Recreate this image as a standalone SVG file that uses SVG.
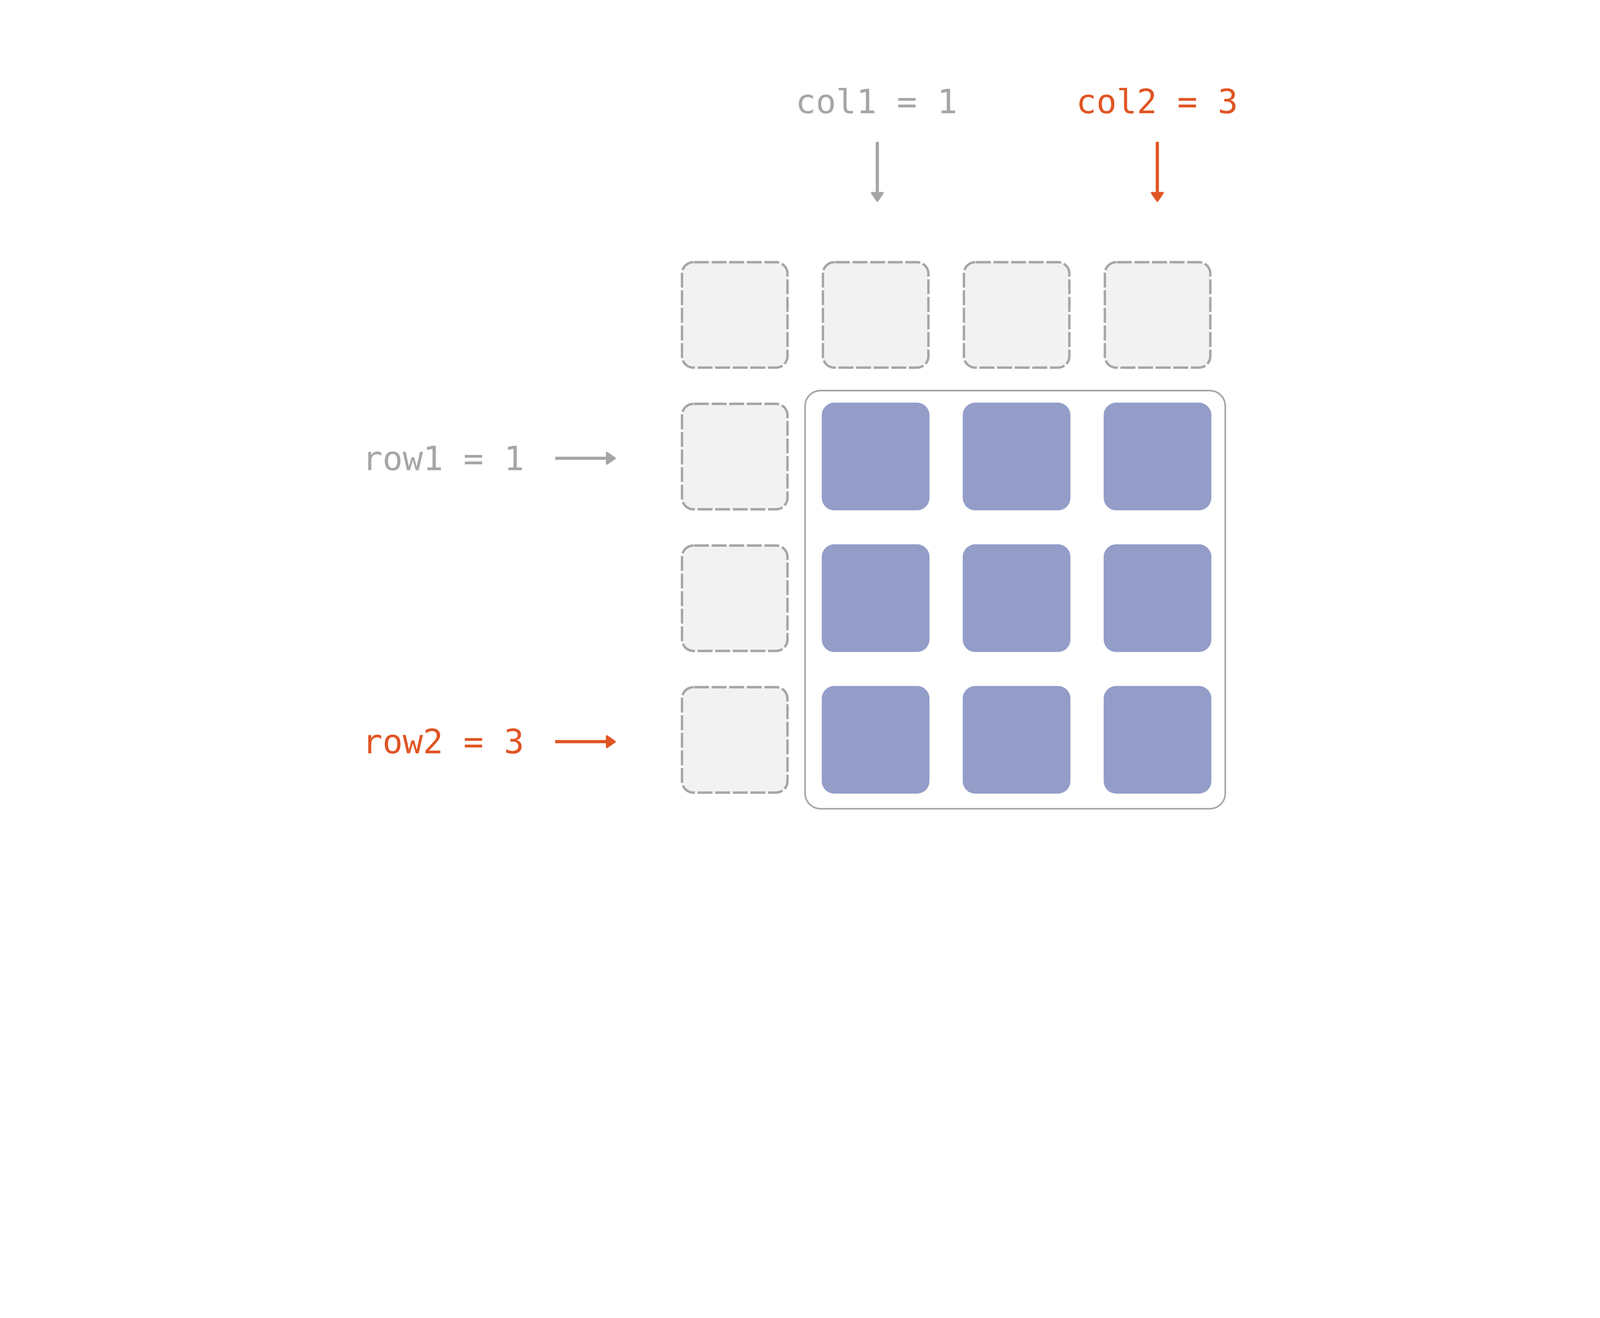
<svg xmlns="http://www.w3.org/2000/svg" width="6000" height="3375" viewBox="0 0 6000 3375" preserveAspectRatio="xMinYMin meet">
  <style>
    svg { width: 100vw; height: 100vh; }
    .lbl { font-family: "DejaVu Sans Mono", "Liberation Mono", monospace; font-size: 126px; text-anchor: middle; }
    .gray { fill: #a6a6a6; }
    .orange { fill: #e05524; }
    .ghost { fill: #f2f2f2; stroke: #a6a6a6; stroke-width: 9; stroke-dasharray: 56 10; stroke-dashoffset: -2; }
    .cell { fill: #949dc8; }
    .frame { fill: none; stroke: #a6a6a6; stroke-width: 6; }
    .conn { fill: none; stroke-width: 12; }
  </style>
  <defs>
    <marker id="ahGray" markerUnits="userSpaceOnUse" viewBox="-2 -28 44 56" refX="0" refY="0" markerWidth="44" markerHeight="56" orient="auto">
      <path d="M4,-20 L33,0 L4,20 Z" fill="#a6a6a6" stroke="#a6a6a6" stroke-width="8" stroke-linejoin="round"/>
    </marker>
    <marker id="ahOrange" markerUnits="userSpaceOnUse" viewBox="-2 -28 44 56" refX="0" refY="0" markerWidth="44" markerHeight="56" orient="auto">
      <path d="M4,-20 L33,0 L4,20 Z" fill="#e05524" stroke="#e05524" stroke-width="8" stroke-linejoin="round"/>
    </marker>
  </defs>
  <rect width="6000" height="3375" fill="#ffffff"/>

  <g id="labels">
    <text id="col1-label" class="lbl gray" x="3287" y="425">col1 = 1</text>
    <text id="col2-label" class="lbl orange" x="4339" y="425">col2 = 3</text>
    <text id="row1-label" class="lbl gray" x="1662" y="1763">row1 = 1</text>
    <text id="row2-label" class="lbl orange" x="1662" y="2826">row2 = 3</text>
  </g>

  <g id="connectors">
    <line x1="3290" y1="532" x2="3290" y2="720" class="conn" stroke="#a6a6a6" marker-end="url(#ahGray)"/>
    <line x1="4340" y1="532" x2="4340" y2="720" class="conn" stroke="#e05524" marker-end="url(#ahOrange)"/>
    <line x1="2082" y1="1719" x2="2272" y2="1719" class="conn" stroke="#a6a6a6" marker-end="url(#ahGray)"/>
    <line x1="2082" y1="2782" x2="2272" y2="2782" class="conn" stroke="#e05524" marker-end="url(#ahOrange)"/>
  </g>

  <g id="selection-frame">
    <rect x="3019" y="1465" width="1575.7" height="1568.7" rx="58" ry="58" class="frame"/>
  </g>

  <g id="header-row">
    <g id="h0"><rect x="2557.5" y="983.5" width="395.5" height="395.5" rx="43" class="ghost"/></g>
    <g id="h1"><rect x="3086" y="983.5" width="395.5" height="395.5" rx="43" class="ghost"/></g>
    <g id="h2"><rect x="3614.7" y="983.5" width="395.5" height="395.5" rx="43" class="ghost"/></g>
    <g id="h3"><rect x="4143.2" y="983.5" width="395.5" height="395.5" rx="43" class="ghost"/></g>
  </g>

  <g id="header-col">
    <g id="v1"><rect x="2557.5" y="1514.8" width="395.5" height="395.5" rx="43" class="ghost"/></g>
    <g id="v2"><rect x="2557.5" y="2046.2" width="395.5" height="395.5" rx="43" class="ghost"/></g>
    <g id="v3"><rect x="2557.5" y="2577.5" width="395.5" height="395.5" rx="43" class="ghost"/></g>
  </g>

  <g id="cells">
    <g id="c11"><rect x="3081.6" y="1510.3" width="404" height="404" rx="47" class="cell"/></g>
    <g id="c12"><rect x="3610.2" y="1510.3" width="404" height="404" rx="47" class="cell"/></g>
    <g id="c13"><rect x="4138.7" y="1510.3" width="404" height="404" rx="47" class="cell"/></g>
    <g id="c21"><rect x="3081.6" y="2041.7" width="404" height="404" rx="47" class="cell"/></g>
    <g id="c22"><rect x="3610.2" y="2041.7" width="404" height="404" rx="47" class="cell"/></g>
    <g id="c23"><rect x="4138.7" y="2041.7" width="404" height="404" rx="47" class="cell"/></g>
    <g id="c31"><rect x="3081.6" y="2573" width="404" height="404" rx="47" class="cell"/></g>
    <g id="c32"><rect x="3610.2" y="2573" width="404" height="404" rx="47" class="cell"/></g>
    <g id="c33"><rect x="4138.7" y="2573" width="404" height="404" rx="47" class="cell"/></g>
  </g>
</svg>
